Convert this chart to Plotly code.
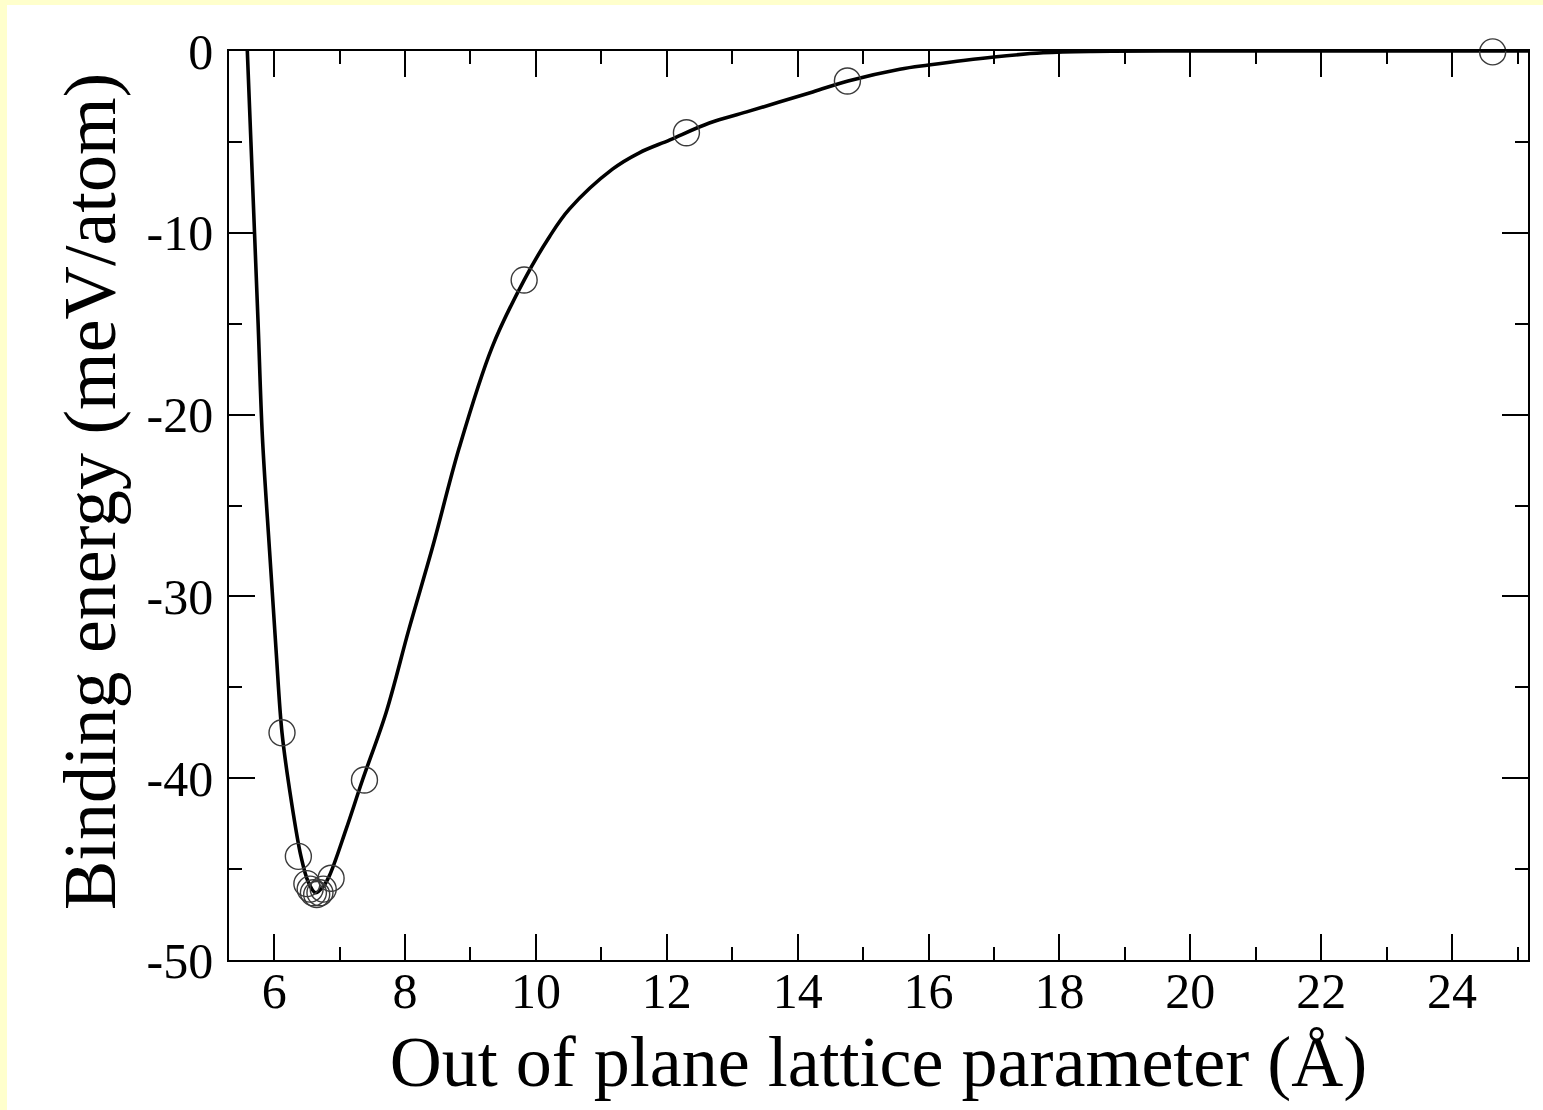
import plotly.graph_objects as go

# Calculated points (open circles)
pts_x = [6.12, 6.37, 6.50, 6.55, 6.60, 6.65, 6.70, 6.75, 6.87, 7.38, 9.82, 12.30, 14.76, 24.62]
pts_y = [-37.5, -44.3, -45.8, -46.1, -46.3, -46.4, -46.3, -46.1, -45.5, -40.1, -12.6, -4.5, -1.65, -0.05]

# Fitted curve
fit_x = [5.557, 5.59, 5.645, 5.70, 5.755, 5.82, 5.93, 6.03, 6.12, 6.26, 6.41, 6.52, 6.63, 6.74, 6.84, 7.10, 7.35,
         7.71, 8.06, 8.42, 8.83, 9.33, 9.82, 10.21, 10.51, 11.17, 11.58, 12.04, 12.65, 13.22, 14.23,
         14.77, 15.56, 16.0, 17.0, 17.75, 18.5, 20.0, 22.0, 25.2]
fit_y = [3.0, 0.0, -5.0, -10.0, -15.0, -21.2, -27.5, -33.0, -37.5, -41.2, -44.3, -45.7, -46.3, -46.0, -45.4, -42.8, -40.1,
         -36.4, -31.8, -27.3, -21.8, -16.3, -12.6, -10.2, -8.7, -6.5, -5.6, -4.9, -3.96, -3.35, -2.25,
         -1.65, -1.0, -0.77, -0.33, -0.1, -0.02, 0.0, 0.0, 0.0]

x_ticks = [6, 8, 10, 12, 14, 16, 18, 20, 22, 24]
x_labels = ["6", "8", "10", "12", "14", "16", "18", "20", "22", "24"]
y_ticks = [-50, -40, -30, -20, -10, 0]
y_labels = ["-50", "-40", "-30", "-20", "-10", "0"]

FONT = "Liberation Serif"

fig = go.Figure()
fig.add_trace(go.Scatter(x=fit_x, y=fit_y, mode="lines",
                         line=dict(color="black", width=3.6, shape="spline", smoothing=1.0),
                         showlegend=False, cliponaxis=True))
fig.add_trace(go.Scatter(x=pts_x, y=pts_y, mode="markers",
                         marker=dict(symbol="circle-open", size=26, color="#3a3a3a",
                                     line=dict(width=1.4, color="#3a3a3a")),
                         showlegend=False, cliponaxis=False))

# white page area over yellow border
L, R, T, B = 229, 15, 51, 150
W, H = 1543, 1110
pw, ph = W - L - R, H - T - B
fig.add_shape(type="rect", xref="paper", yref="paper",
              x0=(7 - L) / pw, x1=(W + 5 - L) / pw,
              y0=(H - B - (H + 5)) / ph, y1=(H - B - 5) / ph,
              fillcolor="white", line=dict(width=0), layer="below")

# y-axis title as a rotated annotation
fig.add_annotation(text="Binding energy (meV/atom)", xref="paper", yref="paper",
                   x=(90 - L) / pw, y=(H - B - 492) / ph, xanchor="center", yanchor="middle",
                   textangle=-90, showarrow=False, font=dict(size=74, family=FONT, color="black"))

fig.update_layout(
    width=W, height=H,
    margin=dict(l=L, r=R, t=T, b=B),
    paper_bgcolor="#FFFFCC",
    plot_bgcolor="white",
    font=dict(family=FONT, color="black"),
    xaxis=dict(range=[5.31, 25.16], tickvals=x_ticks, ticktext=x_labels, ticks="inside", ticklen=26, tickwidth=1.5,
               tickcolor="black", showline=True, linecolor="black", linewidth=1.5, mirror="allticks",
               showgrid=False, zeroline=False, tickfont=dict(size=50, family=FONT),
               ticklabelstandoff=-14,
               minor=dict(dtick=1, tick0=0, ticks="inside", ticklen=13, tickwidth=1.5, tickcolor="black", showgrid=False),
               title=dict(text="Out of plane lattice parameter (Å)", font=dict(size=72, family=FONT), standoff=18)),
    yaxis=dict(range=[-50, 0], tickvals=y_ticks, ticktext=y_labels, ticks="inside", ticklen=26, tickwidth=1.5,
               tickcolor="black", showline=True, linecolor="black", linewidth=1.5, mirror="allticks",
               showgrid=False, zeroline=False, tickfont=dict(size=50, family=FONT),
               ticklabelstandoff=4,
               minor=dict(dtick=5, tick0=0, ticks="inside", ticklen=13, tickwidth=1.5, tickcolor="black", showgrid=False)),
)

fig.write_html("out.html")
